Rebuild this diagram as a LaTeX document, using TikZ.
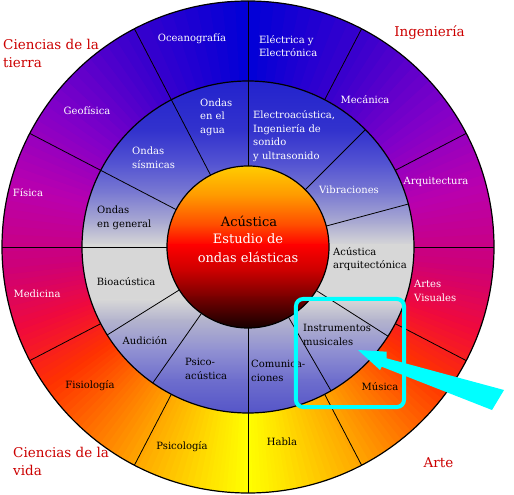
\documentclass[tikz,border=0pt]{standalone}
\usepackage{fontspec}
\setmainfont{DejaVu Serif}
\definecolor{catred}{RGB}{204,0,0}
\definecolor{hilite}{RGB}{0,255,255}
\definecolor{ringA}{RGB}{0,0,215}
\definecolor{ringB}{RGB}{60,0,205}
\definecolor{ringC}{RGB}{130,0,200}
\definecolor{ringD}{RGB}{185,0,175}
\definecolor{ringE}{RGB}{205,0,120}
\definecolor{ringF}{RGB}{240,10,60}
\definecolor{ringG}{RGB}{255,50,0}
\definecolor{ringH}{RGB}{255,115,0}
\definecolor{ringI}{RGB}{255,175,0}
\definecolor{ringJ}{RGB}{255,225,0}
\definecolor{ringK}{RGB}{255,255,0}
\definecolor{midA}{RGB}{35,35,205}
\definecolor{midB}{RGB}{50,50,205}
\definecolor{midC}{RGB}{85,85,210}
\definecolor{midD}{RGB}{125,125,210}
\definecolor{midE}{RGB}{175,175,210}
\definecolor{midF}{RGB}{215,215,215}
\definecolor{midG}{RGB}{180,180,205}
\definecolor{midH}{RGB}{145,145,210}
\definecolor{midI}{RGB}{110,110,205}
\definecolor{midJ}{RGB}{85,85,200}
\definecolor{sphA}{RGB}{255,205,0}
\definecolor{sphB}{RGB}{255,150,0}
\definecolor{sphC}{RGB}{255,70,0}
\definecolor{sphD}{RGB}{255,0,0}
\definecolor{sphE}{RGB}{200,0,0}
\definecolor{sphF}{RGB}{120,0,0}
\definecolor{sphG}{RGB}{20,0,0}
\begin{document}
\begin{tikzpicture}[x=1pt,y=1pt,
  lab/.style={inner sep=0pt,align=left,font=\fontsize{10}{13.5}\selectfont},
  wlab/.style={lab,text=white},
  blab/.style={lab,text=black},
  catlab/.style={inner sep=0pt,align=left,text=catred,font=\fontsize{13.5}{18}\selectfont},
  sphlab/.style={inner sep=0pt,font=\fontsize{13}{18}\selectfont},
  divider/.style={line width=0.8pt},
  rim/.style={line width=1.2pt}]
\useasboundingbox (-248,-248) rectangle (266,247);
\fill[white] (-248,-248) rectangle (266,247);
\foreach \ta/\tb/\ca/\cb in {0/30/ringA/ringB,30/55/ringB/ringC,55/75/ringC/ringD,75/95/ringD/ringE,95/110/ringE/ringF,110/125/ringF/ringG,125/140/ringG/ringH,140/155/ringH/ringI,155/170/ringI/ringJ,170/180/ringJ/ringK}
  \foreach \k in {0,...,9}{
    \pgfmathsetmacro\sa{\ta+(\tb-\ta)*\k/10}
    \pgfmathsetmacro\sb{\ta+(\tb-\ta)*(\k+1)/10+0.5}
    \pgfmathtruncatemacro\pc{95-10*\k}
    \fill[fill=\ca!\pc!\cb] ({90-\sa}:166) arc[start angle=90-\sa,end angle=90-\sb,radius=166]
      -- ({90-\sb}:246) arc[start angle=90-\sb,end angle=90-\sa,radius=246] -- cycle;
    \fill[fill=\ca!\pc!\cb] ({90+\sa}:166) arc[start angle=90+\sa,end angle=90+\sb,radius=166]
      -- ({90+\sb}:246) arc[start angle=90+\sb,end angle=90+\sa,radius=246] -- cycle;
  }
\begin{scope}
  \clip (0,0) circle[radius=166];
  \foreach \ya/\yb/\ca/\cb in {166/117/midA/midB,117/82/midB/midC,82/52/midC/midD,52/22/midD/midE,22/2/midE/midF,2/-53/midF/midF,-53/-73/midF/midG,-73/-103/midG/midH,-103/-133/midH/midI,-133/-166/midI/midJ}
    \shade[top color=\ca,bottom color=\cb] (-167,\ya+0.5) rectangle (167,\yb-0.5);
\end{scope}
\begin{scope}
  \clip (0,0) circle[radius=81];
  \foreach \ya/\yb/\ca/\cb in {81/50/sphA/sphB,50/20/sphB/sphC,20/2/sphC/sphD,2/-25/sphD/sphE,-25/-50/sphE/sphF,-50/-81/sphF/sphG}
    \shade[top color=\ca,bottom color=\cb] (-82,\ya+0.5) rectangle (82,\yb-0.5);
\end{scope}
\draw[rim] (0,0) circle[radius=246];
\draw[rim] (0,0) circle[radius=166];
\draw[rim] (0,0) circle[radius=81];
\foreach \a in {90,62.5,27.5,0,-27.5,-62.5,-90,-117.5,-152.5,180,152.5,117.5}
  \draw[divider] (\a:166) -- (\a:246);
\foreach \a in {90,45,15,-32.5,-60,-90,-125,-148,180,152.5,117.5}
  \draw[divider] (\a:81) -- (\a:166);
\node[wlab] (ocean) at (-56,208) {Oceanografía};
\node[wlab,anchor=west] (elec) at (11,201) {Eléctrica y\\Electrónica};
\node[wlab] (mec) at (117,147) {Mecánica};
\node[wlab] (arq) at (188,65) {Arquitectura};
\node[wlab,anchor=west] (artes) at (166,-44) {Artes\\Visuales};
\node[blab] (musica) at (132,-140) {Música};
\node[blab] (habla) at (34,-195) {Habla};
\node[blab] (psicol) at (-66,-200) {Psicología};
\node[blab] (fisiol) at (-158,-139) {Fisiología};
\node[wlab] (medic) at (-211,-47) {Medicina};
\node[wlab] (fisica) at (-220,54) {Física};
\node[wlab] (geof) at (-161,136) {Geofísica};
\node[wlab,anchor=west] (agua) at (-48,130) {Ondas\\en el\\agua};
\node[wlab,anchor=west] (sism) at (-116,89) {Ondas\\sísmicas};
\node[blab,anchor=west] (gral) at (-151,29) {Ondas\\en general};
\node[blab] (bio) at (-122,-35) {Bioacústica};
\node[blab] (audic) at (-103,-94) {Audición};
\node[blab,anchor=west] (psicoac) at (-63,-122) {Psico-\\acústica};
\node[blab,anchor=west] (comun) at (3,-124) {Comunica-\\ciones};
\node[blab,anchor=west] (instr) at (55,-88) {Instrumentos\\musicales};
\node[blab,anchor=west] (acarq) at (85,-12) {Acústica\\arquitectónica};
\node[wlab] (vibr) at (101,57) {Vibraciones};
\node[wlab,anchor=west] (electroac) at (5,111) {Electroacústica,\\Ingeniería de\\sonido\\y ultrasonido};
\node[sphlab] (acu) at (1,26) {Acústica};
\node[sphlab,text=white] (estud) at (0,8) {Estudio de};
\node[sphlab,text=white] (ondas) at (0,-10) {ondas elásticas};
\node[catlab,anchor=west] (tierra) at (-245,194) {Ciencias de la\\tierra};
\node[catlab] (ing) at (181.5,214) {Ingeniería};
\node[catlab,anchor=west] (vida) at (-235,-214.5) {Ciencias de la\\vida};
\node[catlab] (arte) at (190.5,-216) {Arte};
\draw[hilite,line width=4pt,rounded corners=7pt] (48,-52) rectangle (156,-160);
\fill[hilite] (110,-103) -- (138.7,-104.7) -- (138.7,-111.3) -- (256,-143) -- (244,-163) -- (133.7,-119.7) -- (132,-123) -- cycle;
\end{tikzpicture}
\end{document}
